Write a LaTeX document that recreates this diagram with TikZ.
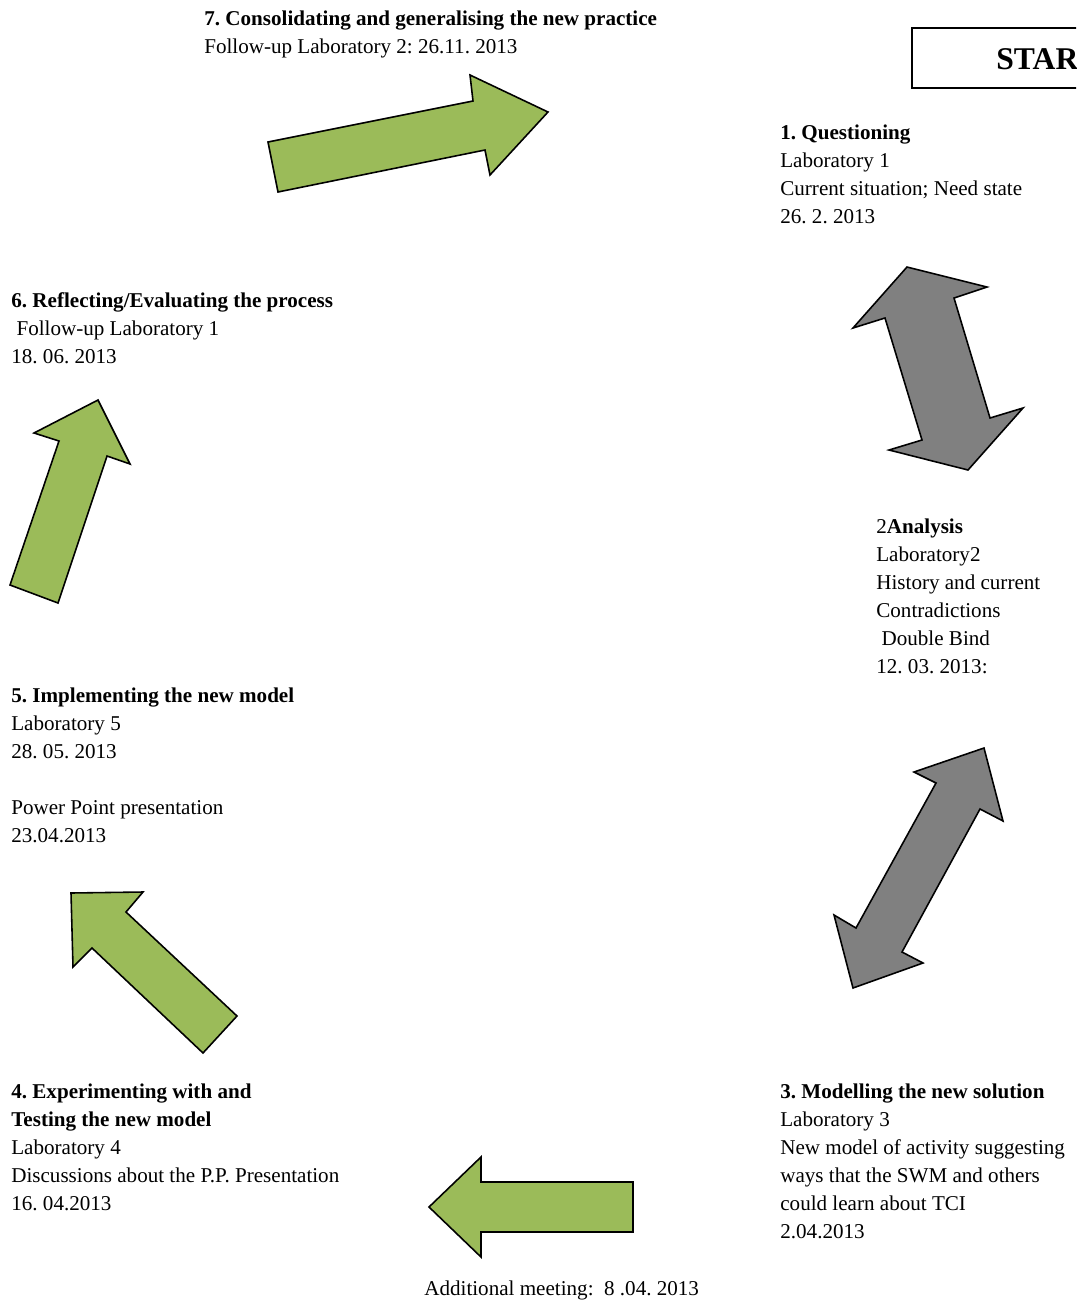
\documentclass[tikz,border=0pt]{standalone}
\usepackage{fontspec}
\setmainfont{Liberation Serif}
\frenchspacing
\definecolor{arrowgreen}{HTML}{9BBB59}
\definecolor{arrowgray}{HTML}{808080}
\begin{document}
\begin{tikzpicture}[x=0.02cm,y=-0.02cm,
  % multi-line labels: the base anchor sits on the last line
  lbl/.style={anchor=base west, inner sep=0pt, align=left,
    font=\fontsize{12}{15.87}\selectfont},
  block/.style={draw=black, line width=0.9pt, line join=miter},
  grn/.style={block, fill=arrowgreen},
  gry/.style={block, fill=arrowgray}]
\clip (0,0) rectangle (1076,1302);

% start box, running off the right edge
\draw[line width=0.9pt] (912,28) rectangle (1200,88);
\node[anchor=base west, inner sep=0pt, font=\fontsize{18}{20}\selectfont\bfseries]
  (start) at (996,69) {START};

% stage labels
\node[lbl] (s7) at (204,53) {\textbf{7. Consolidating and generalising the new practice}\\
  Follow-up Laboratory 2: 26.11. 2013};
\node[lbl] (s1) at (780,223) {\textbf{1. Questioning}\\Laboratory 1\\
  Current situation; Need state\\26. 2. 2013};
\node[lbl] (s6) at (11,363) {\textbf{6. Reflecting/Evaluating the process}\\
  \ Follow-up Laboratory 1\\18. 06. 2013};
\node[lbl] (s2) at (876,673) {2\textbf{Analysis}\\Laboratory2\\History and current\\
  Contradictions\\\ Double Bind\\12. 03. 2013:};
\node[lbl] (s5) at (11,842) {\textbf{5. Implementing the new model}\\Laboratory 5\\
  28. 05. 2013\\[15.87pt]Power Point presentation\\23.04.2013};
\node[lbl] (s4) at (11,1210) {\textbf{4. Experimenting with and}\\
  \textbf{Testing the new model}\\Laboratory 4\\
  Discussions about the P.P. Presentation\\16. 04.2013};
\node[lbl] (s3) at (780,1238) {\textbf{3. Modelling the new solution}\\Laboratory 3\\
  New model of activity suggesting\\ways that the SWM and others\\
  could learn about TCI\\2.04.2013};
\node[lbl] (extra) at (424,1295) {Additional meeting:\ \ 8 .04. 2013};

% 7: arrow towards stage 1
\draw[grn] (268,142) -- (473,101) -- (470,75) -- (548,112) -- (490,175)
  -- (485,150) -- (278,192) -- cycle;

% 1 <-> 2
\draw[gry] (907,267) -- (987,287) -- (954,298) -- (990,418) -- (1023,408)
  -- (968,470) -- (889,450) -- (922,440) -- (885,318) -- (853,328) -- cycle;

% 2 <-> 3
\draw[gry] (984,748) -- (1003,821) -- (980,809) -- (902,952) -- (923,963)
  -- (853,988) -- (834,915) -- (856,928) -- (936,783) -- (914,772) -- cycle;

% 3 -> 4
\draw[grn] (429,1207) -- (481,1157) -- (481,1182) -- (633,1182) -- (633,1232)
  -- (481,1232) -- (481,1257) -- cycle;

% 4 -> 5
\draw[grn] (71,893) -- (143,892) -- (126,912) -- (237,1016) -- (203,1053)
  -- (92,948) -- (73,967) -- cycle;

% 5 -> 6
\draw[grn] (98,400) -- (130,464) -- (107,456) -- (58,603) -- (10,585)
  -- (59,441) -- (34,433) -- cycle;
\end{tikzpicture}
\end{document}
